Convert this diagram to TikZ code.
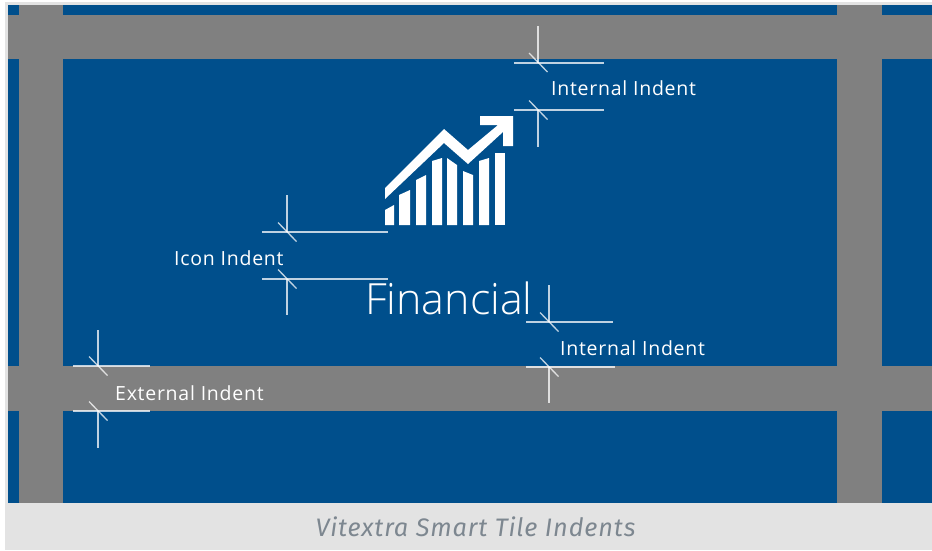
\documentclass[tikz,border=0pt]{standalone}
\usepackage{fontspec}
\setmainfont{Open Sans}[UprightFont=* Light]
\newfontfamily\labelfont{Open Sans}[LetterSpace=3.8]
\newfontfamily\captionfont{Fira Sans}[LetterSpace=3.4]
\usetikzlibrary{positioning}

\definecolor{tileblue}{HTML}{004F8C}
\definecolor{gapgray}{HTML}{808080}
\definecolor{bandgray}{HTML}{E3E3E3}
\definecolor{captiongray}{HTML}{7D8790}

\tikzset{
  indentline/.style={draw=white,opacity=.75,line width=2pt},
  indentlabel/.style={text=white,inner sep=0pt,anchor=west,font=\labelfont\fontsize{19.5}{19.5}\selectfont},
  iconpart/.style={fill=white,draw=none}
}

\begin{document}
\begin{tikzpicture}[x=1pt,y=-1pt]
  \useasboundingbox (0,0) rectangle (932,550);

  % --- Frame and caption band ---
  \fill[bandgray] (5,2) rectangle (932,550);
  \fill[tileblue] (8,5) rectangle (932,503);

  % --- Gaps between tiles ---
  \fill[gapgray] (8,15) rectangle (932,59);
  \fill[gapgray] (8,366) rectangle (932,411);
  \fill[gapgray] (19,5) rectangle (63,503);
  \fill[gapgray] (837,5) rectangle (882,503);

  % --- Chart icon ---
  \fill[iconpart] (385,188) -- (444,129) -- (468,150) -- (498,125) -- (480,125)
    -- (480,116) -- (513,116) -- (513,146) -- (503,146) -- (503,132) -- (468,164)
    -- (444,143) -- (385,199) -- cycle;
  \foreach \lx/\rx/\ly/\ry in {385/394/210/205, 399/410/195/190, 416/426/180/175,
      432/442/161/158, 447/457/158/165, 463/473/171/175, 479/489/161/158, 495/505/153/153}
    \fill[iconpart] (\lx,225) -- (\lx,\ly) -- (\rx,\ry) -- (\rx,225) -- cycle;

  % --- Indent marks ---
  \foreach \nm/\cx/\cy/\lx/\rx/\vy in {topa/538/62.5/514/604/26, topb/538/110/514/604/147,
      icona/287/232/262/388/195, iconb/287/279/262/388/315,
      inna/549/322/526/613/285, innb/549/367/526/615/403,
      exta/98/366/73/150/330, extb/98/411/73/150/448} {
    \coordinate (\nm c) at (\cx,\cy);
    \coordinate (\nm l) at (\lx,\cy);
    \coordinate (\nm r) at (\rx,\cy);
    \coordinate (\nm v) at (\cx,\vy);
    \coordinate (\nm s) at (\cx-9,\cy-9.5);
    \coordinate (\nm e) at (\cx+9.5,\cy+9.5);
    \draw[indentline] (\nm l) -- (\nm r);
    \draw[indentline] (\nm c) -- (\nm v);
    \draw[indentline,line width=1.3pt] (\nm s) -- (\nm e);
  }

  % --- Labels ---
  \node[indentlabel] (toplabel) at (551,88) {Internal Indent};
  \node[indentlabel] (iconlabel) at (174,258) {Icon Indent};
  \node[indentlabel] (innlabel) at (560,348) {Internal Indent};
  \node[indentlabel] (extlabel) at (115,393) {External Indent};
  \node[text=white,inner sep=0pt,anchor=west,font=\fontsize{43}{43}\selectfont] (title) at (365,298) {Financial};
  \node[text=captiongray,inner sep=0pt,font=\captionfont\itshape\fontsize{25.3}{25.3}\selectfont] (caption) at (475.5,527) {Vitextra Smart Tile Indents};
\end{tikzpicture}
\end{document}
